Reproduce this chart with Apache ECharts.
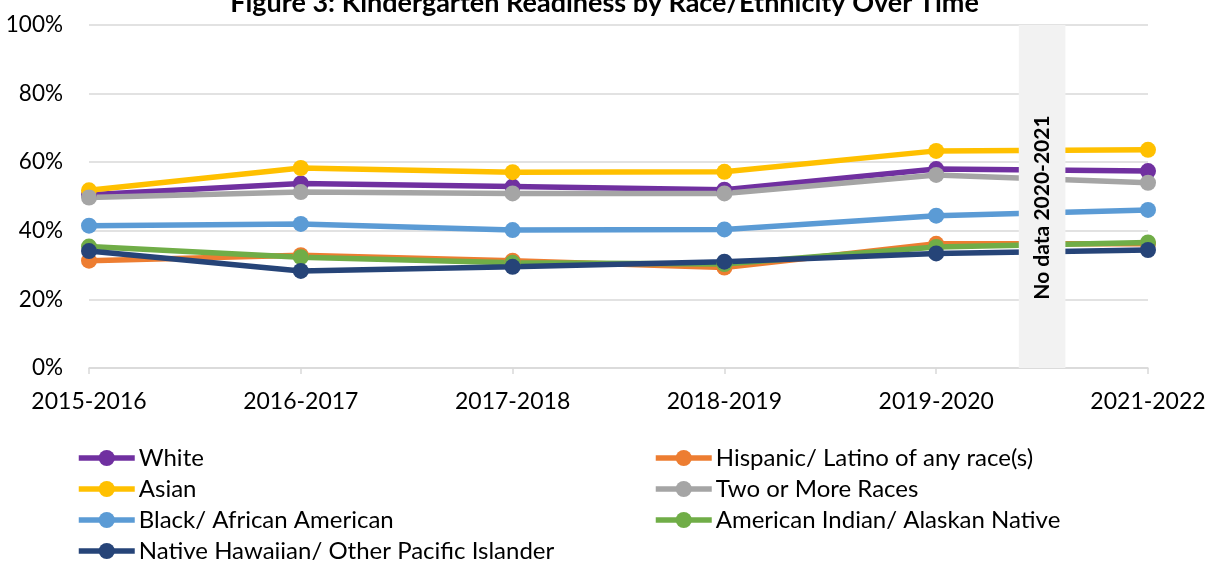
<!DOCTYPE html>
<html>
<head>
<meta charset="utf-8">
<script src="https://cdn.jsdelivr.net/npm/echarts@6/dist/echarts.min.js"></script>
<style>html,body{margin:0;padding:0;background:#fff;}#c{width:1209px;height:561px;}</style>
</head>
<body>
<div id="c"></div>
<script>
var categories = ['2015-2016','2016-2017','2017-2018','2018-2019','2019-2020','2021-2022'];
var yTicks = [0, 20, 40, 60, 80, 100];
var white     = [50.5, 53.8, 52.9, 52.0, 58.0, 57.4];
var hispanic  = [31.3, 32.9, 31.3, 29.3, 36.2, 36.2];
var asian     = [51.8, 58.3, 57.1, 57.2, 63.3, 63.6];
var twoOrMore = [49.7, 51.3, 50.9, 50.9, 56.3, 54.0];
var black     = [41.5, 42.0, 40.2, 40.4, 44.4, 46.1];
var amIndian  = [35.4, 32.3, 30.7, 30.3, 35.3, 36.6];
var nhpi      = [34.1, 28.3, 29.5, 31.0, 33.4, 34.4];
var noDataLabel = 'No data 2020-2021';
var noDataRange = [4.39, 4.61];

var FONT = 'Lato';
function pts(arr){ return arr.map(function(v,i){ return [i, v]; }); }
function lineSeries(name, arr, color){
  return {
    name: name, type: 'line', data: pts(arr),
    symbol: 'circle', symbolSize: 16,
    lineStyle: {width: 5.5, color: color},
    itemStyle: {color: color},
    emphasis: {disabled: true}, z: 2
  };
}
var legendCommon = {
  orient: 'vertical', top: 446, height: 130, padding: 0,
  itemWidth: 56, itemHeight: 20, itemGap: 7,
  lineStyle: {width: 5.5},
  textStyle: {fontFamily: FONT, fontSize: 24, color: '#000', padding: [0, 0, 0, -1]}
};
var chart = echarts.init(document.getElementById('c'));
chart.setOption({
  animation: false,
  title: {
    text: 'Figure 3: Kindergarten Readiness by Race/Ethnicity Over Time',
    left: 'center', top: -15,
    textStyle: {fontFamily: FONT, fontSize: 27, fontWeight: 'bold', color: '#000'}
  },
  grid: {left: 89, right: 61, top: 25, bottom: 193, containLabel: false},
  xAxis: {
    type: 'value', min: 0, max: 5, interval: 1,
    axisLine: {show: true, lineStyle: {color: '#D9D9D9', width: 1.5}},
    axisTick: {show: true, length: 6, lineStyle: {color: '#D9D9D9', width: 1.5}},
    splitLine: {show: false},
    axisLabel: {
      margin: 22, color: '#000', fontFamily: FONT, fontSize: 23,
      formatter: function(v){ return categories[v] || ''; }
    }
  },
  yAxis: {
    type: 'value', min: yTicks[0], max: yTicks[yTicks.length-1], interval: 20,
    axisLine: {show: false}, axisTick: {show: false},
    splitLine: {lineStyle: {color: '#D9D9D9', width: 1.5}},
    axisLabel: {margin: 26, color: '#000', fontFamily: FONT, fontSize: 22.5, formatter: '{value}%'}
  },
  legend: [
    Object.assign({left: 76, data: ['White', 'Asian', 'Black/ African American', 'Native Hawaiian/ Other Pacific Islander']}, legendCommon),
    Object.assign({left: 653, data: ['Hispanic/ Latino of any race(s)', 'Two or More Races', 'American Indian/ Alaskan Native']}, legendCommon)
  ],
  series: [
    lineSeries('White', white, '#7030A0'),
    lineSeries('Hispanic/ Latino of any race(s)', hispanic, '#ED7D31'),
    lineSeries('Asian', asian, '#FFC000'),
    lineSeries('Two or More Races', twoOrMore, '#A5A5A5'),
    lineSeries('Black/ African American', black, '#5B9BD5'),
    lineSeries('American Indian/ Alaskan Native', amIndian, '#70AD47'),
    lineSeries('Native Hawaiian/ Other Pacific Islander', nhpi, '#264478'),
    {
      name: 'band', type: 'line', data: [], z: 20, silent: true,
      markArea: {
        silent: true, z: 20,
        itemStyle: {color: '#F2F2F2'},
        label: {
          show: true, position: 'inside', rotate: 90, offset: [-11, 0],
          formatter: noDataLabel,
          fontFamily: FONT, fontSize: 21, fontWeight: 'bold', color: '#000'
        },
        data: [[{xAxis: noDataRange[0], yAxis: yTicks[yTicks.length-1]}, {xAxis: noDataRange[1], yAxis: yTicks[0]}]]
      }
    }
  ]
});
</script>
</body>
</html>
